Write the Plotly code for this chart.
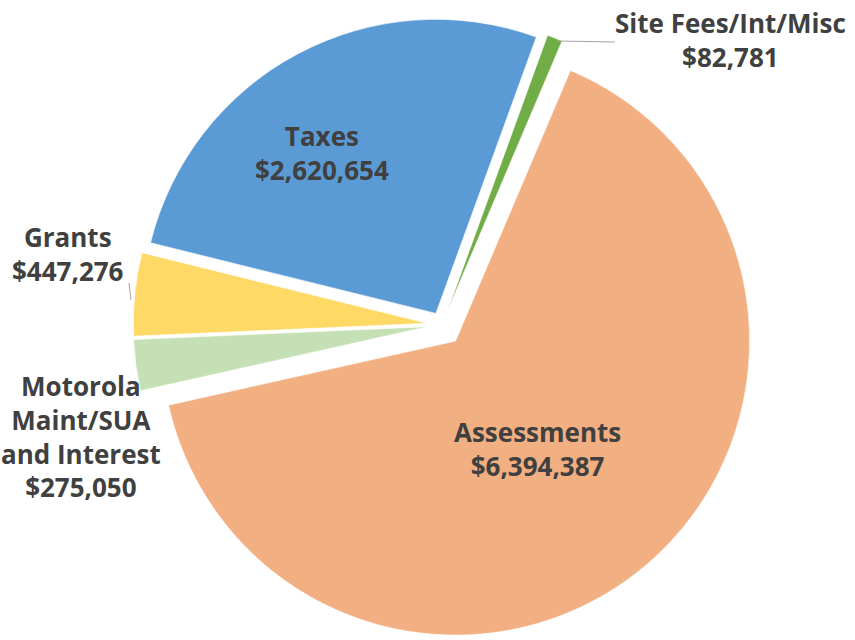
import plotly.graph_objects as go

# Data
categories = ["Assessments", "Motorola Maint/SUA and Interest", "Grants", "Taxes", "Site Fees/Int/Misc"]
label_lines = [["Assessments"], ["Motorola", "Maint/SUA", "and Interest"], ["Grants"], ["Taxes"], ["Site Fees/Int/Misc"]]
values = [6394387, 275050, 447276, 2620654, 82781]
colors = ["#F2AF82", "#C5E0B4", "#FFD966", "#5B9BD5", "#70AD47"]
pulls = [0.072, 0.05, 0.05, 0.044, 0.048]

W, H = 855, 640
fig = go.Figure(go.Pie(
    labels=categories,
    values=values,
    sort=False,
    direction="clockwise",
    rotation=23,
    pull=pulls,
    marker=dict(colors=colors, line=dict(color="white", width=0.6)),
    textinfo="none",
    showlegend=False,
    domain=dict(x=[122 / W, 762 / W], y=[0, 0.985]),
))

# label placement (pixel anchors)
label_pos = {
    "Assessments": (537, 449, "center"),
    "Motorola Maint/SUA and Interest": (81, 436, "center"),
    "Grants": (68, 254, "center"),
    "Taxes": (322, 153, "center"),
    "Site Fees/Int/Misc": (848, 40, "right"),
}
font = dict(family="Open Sans", size=26, color="#404040")
for cat, lines, v in zip(categories, label_lines, values):
    px, py, anc = label_pos[cat]
    txt = "<b>" + "<br>".join(lines + ["${:,}".format(v)]) + "</b>"
    fig.add_annotation(x=px / W, y=1 - py / H, xref="paper", yref="paper",
                       text=txt, showarrow=False, font=font, align="center",
                       xanchor=anc, yanchor="middle")

# leader lines
for (x0, y0, x1, y1) in [(557, 41, 615, 42), (129, 283, 131, 300)]:
    fig.add_shape(type="line", xref="paper", yref="paper",
                  x0=x0 / W, y0=1 - y0 / H, x1=x1 / W, y1=1 - y1 / H,
                  line=dict(color="#A6A6A6", width=1))

fig.update_layout(width=W, height=H, margin=dict(l=0, r=0, t=0, b=0),
                  paper_bgcolor="white", plot_bgcolor="white")
fig.write_html("out.html", config={"displayModeBar": False},
               post_script="document.body.style.margin='0';")
